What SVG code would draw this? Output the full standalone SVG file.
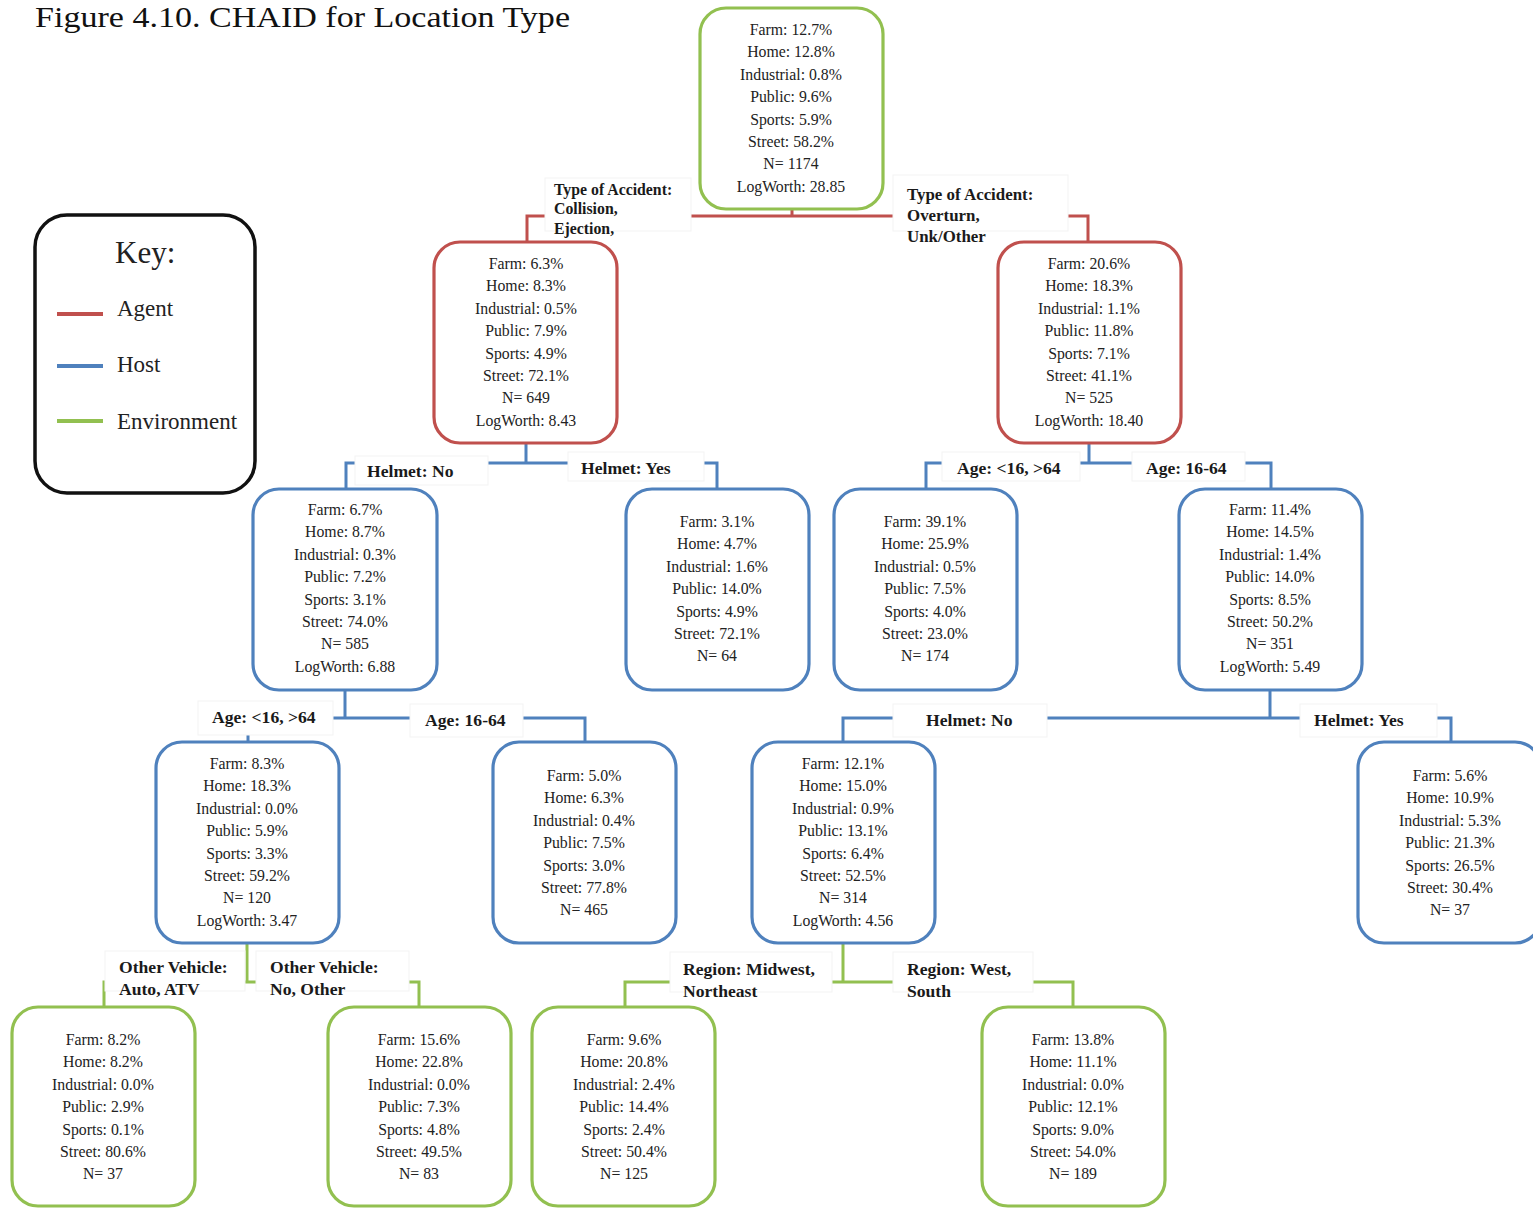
<svg xmlns="http://www.w3.org/2000/svg" width="1533" height="1208" viewBox="0 0 1533 1208">
<style>
.bg{fill:#fff}
.n{fill:#fff;stroke-width:3.2}
.ag{stroke:#C0504D}
.ho{stroke:#4F81BD}
.en{stroke:#92C050}
.t{font-family:"Liberation Serif","Times New Roman",serif;font-size:15.8px;fill:#222;text-anchor:middle}
.lb{font-family:"Liberation Serif","Times New Roman",serif;font-size:17.6px;font-weight:bold;fill:#1a1a1a}
.lb1{font-size:15.8px}
.lb2{font-size:16.9px}
.lbox{fill:#fff;stroke:#f3f3f3;stroke-width:1}
.c{fill:none;stroke-width:3}
.key{font-family:"Liberation Serif","Times New Roman",serif;font-size:23px;fill:#222}
.keyh{font-size:31px}
</style>
<rect class="bg" width="1533" height="1208"/>
<text x="35" y="27" font-family="Liberation Serif, Times New Roman, serif" font-size="30" fill="#111" textLength="535" lengthAdjust="spacingAndGlyphs">Figure 4.10. CHAID for Location Type</text>

<g id="key">
<rect x="35" y="215" width="220" height="278" rx="32" fill="#fff" stroke="#111" stroke-width="3.5"/>
<text class="key keyh" x="115" y="263">Key:</text>
<line x1="57" y1="314" x2="103" y2="314" stroke="#C0504D" stroke-width="4"/>
<text class="key" x="117" y="316">Agent</text>
<line x1="57" y1="366" x2="103" y2="366" stroke="#4F81BD" stroke-width="4"/>
<text class="key" x="117" y="372">Host</text>
<line x1="57" y1="421" x2="103" y2="421" stroke="#92C050" stroke-width="4"/>
<text class="key" x="117" y="429">Environment</text>
</g>

<g id="connectors">
<path class="c ag" d="M792 209V216M527 242V216H1088V242"/>
<path class="c ho" d="M526 443V463M346 489V463H717V489"/>
<path class="c ho" d="M1089 443V463M926 489V463H1271V489"/>
<path class="c ho" d="M345 690V718M248 742V718H585V742"/>
<path class="c ho" d="M1270 690V718M843 742V718H1451V742"/>
<path class="c en" d="M247 943V982M104 1007V982H419V1007"/>
<path class="c en" d="M843 943V982M625 1007V982H1073V1007"/>
</g>

<g id="labels">
<g id="lbl-collision"><rect class="lbox" x="545" y="178" width="146" height="53"/>
<text class="lb lb1" x="554" y="195">Type of Accident:</text><text class="lb lb1" x="554" y="214">Collision,</text><text class="lb lb1" x="554" y="234">Ejection,</text></g>
<g id="lbl-overturn"><rect class="lbox" x="893" y="175" width="175" height="56"/>
<text class="lb lb2" x="907" y="200">Type of Accident:</text><text class="lb lb2" x="907" y="221">Overturn,</text><text class="lb lb2" x="907" y="242">Unk/Other</text></g>
<g id="lbl-helmetno1"><rect class="lbox" x="355" y="456" width="133" height="29"/><text class="lb" x="367" y="477">Helmet: No</text></g>
<g id="lbl-helmetyes1"><rect class="lbox" x="568" y="452" width="136" height="29"/><text class="lb" x="581" y="474">Helmet: Yes</text></g>
<g id="lbl-age1"><rect class="lbox" x="942" y="452" width="138" height="29"/><text class="lb" x="957" y="474">Age: &lt;16, &gt;64</text></g>
<g id="lbl-age2"><rect class="lbox" x="1132" y="452" width="113" height="29"/><text class="lb" x="1146" y="474">Age: 16-64</text></g>
<g id="lbl-age3"><rect class="lbox" x="198" y="701" width="135" height="34"/><text class="lb" x="212" y="723">Age: &lt;16, &gt;64</text></g>
<g id="lbl-age4"><rect class="lbox" x="410" y="704" width="113" height="33"/><text class="lb" x="425" y="726">Age: 16-64</text></g>
<g id="lbl-helmetno2"><rect class="lbox" x="893" y="704" width="154" height="33"/><text class="lb" x="926" y="726">Helmet: No</text></g>
<g id="lbl-helmetyes2"><rect class="lbox" x="1300" y="704" width="137" height="33"/><text class="lb" x="1314" y="726">Helmet: Yes</text></g>
<g id="lbl-ov1"><rect class="lbox" x="105" y="951" width="140" height="40"/><text class="lb" x="119" y="973">Other Vehicle:</text><text class="lb" x="119" y="995">Auto, ATV</text></g>
<g id="lbl-ov2"><rect class="lbox" x="256" y="951" width="153" height="40"/><text class="lb" x="270" y="973">Other Vehicle:</text><text class="lb" x="270" y="995">No, Other</text></g>
<g id="lbl-reg1"><rect class="lbox" x="670" y="952" width="162" height="40"/><text class="lb" x="683" y="975">Region: Midwest,</text><text class="lb" x="683" y="997">Northeast</text></g>
<g id="lbl-reg2"><rect class="lbox" x="893" y="952" width="140" height="40"/><text class="lb" x="907" y="975">Region: West,</text><text class="lb" x="907" y="997">South</text></g>
</g>

<g id="root">
<rect class="n en" x="700" y="8" width="183" height="201" rx="26"/>
<text class="t" x="791" y="35">Farm: 12.7%</text><text class="t" x="791" y="57.4">Home: 12.8%</text><text class="t" x="791" y="79.8">Industrial: 0.8%</text><text class="t" x="791" y="102.2">Public: 9.6%</text><text class="t" x="791" y="124.6">Sports: 5.9%</text><text class="t" x="791" y="147">Street: 58.2%</text><text class="t" x="791" y="169.4">N= 1174</text><text class="t" x="791" y="191.8">LogWorth: 28.85</text>
</g>

<g id="collision">
<rect class="n ag" x="434" y="242" width="183" height="201" rx="26"/>
<text class="t" x="526" y="269">Farm: 6.3%</text><text class="t" x="526" y="291.4">Home: 8.3%</text><text class="t" x="526" y="313.8">Industrial: 0.5%</text><text class="t" x="526" y="336.2">Public: 7.9%</text><text class="t" x="526" y="358.6">Sports: 4.9%</text><text class="t" x="526" y="381">Street: 72.1%</text><text class="t" x="526" y="403.4">N= 649</text><text class="t" x="526" y="425.8">LogWorth: 8.43</text>
</g>

<g id="overturn">
<rect class="n ag" x="998" y="242" width="183" height="201" rx="26"/>
<text class="t" x="1089" y="269">Farm: 20.6%</text><text class="t" x="1089" y="291.4">Home: 18.3%</text><text class="t" x="1089" y="313.8">Industrial: 1.1%</text><text class="t" x="1089" y="336.2">Public: 11.8%</text><text class="t" x="1089" y="358.6">Sports: 7.1%</text><text class="t" x="1089" y="381">Street: 41.1%</text><text class="t" x="1089" y="403.4">N= 525</text><text class="t" x="1089" y="425.8">LogWorth: 18.40</text>
</g>

<g id="helmet-no">
<rect class="n ho" x="253" y="489" width="184" height="201" rx="26"/>
<text class="t" x="345" y="515">Farm: 6.7%</text><text class="t" x="345" y="537.4">Home: 8.7%</text><text class="t" x="345" y="559.8">Industrial: 0.3%</text><text class="t" x="345" y="582.2">Public: 7.2%</text><text class="t" x="345" y="604.6">Sports: 3.1%</text><text class="t" x="345" y="627">Street: 74.0%</text><text class="t" x="345" y="649.4">N= 585</text><text class="t" x="345" y="671.8">LogWorth: 6.88</text>
</g>

<g id="helmet-yes">
<rect class="n ho" x="626" y="489" width="183" height="201" rx="26"/>
<text class="t" x="717" y="527">Farm: 3.1%</text><text class="t" x="717" y="549.4">Home: 4.7%</text><text class="t" x="717" y="571.8">Industrial: 1.6%</text><text class="t" x="717" y="594.2">Public: 14.0%</text><text class="t" x="717" y="616.6">Sports: 4.9%</text><text class="t" x="717" y="639">Street: 72.1%</text><text class="t" x="717" y="661.4">N= 64</text>
</g>

<g id="age-young-old">
<rect class="n ho" x="834" y="489" width="183" height="201" rx="26"/>
<text class="t" x="925" y="527">Farm: 39.1%</text><text class="t" x="925" y="549.4">Home: 25.9%</text><text class="t" x="925" y="571.8">Industrial: 0.5%</text><text class="t" x="925" y="594.2">Public: 7.5%</text><text class="t" x="925" y="616.6">Sports: 4.0%</text><text class="t" x="925" y="639">Street: 23.0%</text><text class="t" x="925" y="661.4">N= 174</text>
</g>

<g id="age-mid">
<rect class="n ho" x="1179" y="489" width="183" height="201" rx="26"/>
<text class="t" x="1270" y="515">Farm: 11.4%</text><text class="t" x="1270" y="537.4">Home: 14.5%</text><text class="t" x="1270" y="559.8">Industrial: 1.4%</text><text class="t" x="1270" y="582.2">Public: 14.0%</text><text class="t" x="1270" y="604.6">Sports: 8.5%</text><text class="t" x="1270" y="627">Street: 50.2%</text><text class="t" x="1270" y="649.4">N= 351</text><text class="t" x="1270" y="671.8">LogWorth: 5.49</text>
</g>

<g id="hn-age-young-old">
<rect class="n ho" x="156" y="742" width="183" height="201" rx="26"/>
<text class="t" x="247" y="769">Farm: 8.3%</text><text class="t" x="247" y="791.4">Home: 18.3%</text><text class="t" x="247" y="813.8">Industrial: 0.0%</text><text class="t" x="247" y="836.2">Public: 5.9%</text><text class="t" x="247" y="858.6">Sports: 3.3%</text><text class="t" x="247" y="881">Street: 59.2%</text><text class="t" x="247" y="903.4">N= 120</text><text class="t" x="247" y="925.8">LogWorth: 3.47</text>
</g>

<g id="hn-age-mid">
<rect class="n ho" x="493" y="742" width="183" height="201" rx="26"/>
<text class="t" x="584" y="781">Farm: 5.0%</text><text class="t" x="584" y="803.4">Home: 6.3%</text><text class="t" x="584" y="825.8">Industrial: 0.4%</text><text class="t" x="584" y="848.2">Public: 7.5%</text><text class="t" x="584" y="870.6">Sports: 3.0%</text><text class="t" x="584" y="893">Street: 77.8%</text><text class="t" x="584" y="915.4">N= 465</text>
</g>

<g id="am-helmet-no">
<rect class="n ho" x="752" y="742" width="183" height="201" rx="26"/>
<text class="t" x="843" y="769">Farm: 12.1%</text><text class="t" x="843" y="791.4">Home: 15.0%</text><text class="t" x="843" y="813.8">Industrial: 0.9%</text><text class="t" x="843" y="836.2">Public: 13.1%</text><text class="t" x="843" y="858.6">Sports: 6.4%</text><text class="t" x="843" y="881">Street: 52.5%</text><text class="t" x="843" y="903.4">N= 314</text><text class="t" x="843" y="925.8">LogWorth: 4.56</text>
</g>

<g id="am-helmet-yes">
<rect class="n ho" x="1358" y="742" width="183" height="201" rx="26"/>
<text class="t" x="1450" y="781">Farm: 5.6%</text><text class="t" x="1450" y="803.4">Home: 10.9%</text><text class="t" x="1450" y="825.8">Industrial: 5.3%</text><text class="t" x="1450" y="848.2">Public: 21.3%</text><text class="t" x="1450" y="870.6">Sports: 26.5%</text><text class="t" x="1450" y="893">Street: 30.4%</text><text class="t" x="1450" y="915.4">N= 37</text>
</g>

<g id="ov-auto-atv">
<rect class="n en" x="12" y="1007" width="183" height="199" rx="26"/>
<text class="t" x="103" y="1045">Farm: 8.2%</text><text class="t" x="103" y="1067.4">Home: 8.2%</text><text class="t" x="103" y="1089.8">Industrial: 0.0%</text><text class="t" x="103" y="1112.2">Public: 2.9%</text><text class="t" x="103" y="1134.6">Sports: 0.1%</text><text class="t" x="103" y="1157">Street: 80.6%</text><text class="t" x="103" y="1179.4">N= 37</text>
</g>

<g id="ov-no-other">
<rect class="n en" x="328" y="1007" width="183" height="199" rx="26"/>
<text class="t" x="419" y="1045">Farm: 15.6%</text><text class="t" x="419" y="1067.4">Home: 22.8%</text><text class="t" x="419" y="1089.8">Industrial: 0.0%</text><text class="t" x="419" y="1112.2">Public: 7.3%</text><text class="t" x="419" y="1134.6">Sports: 4.8%</text><text class="t" x="419" y="1157">Street: 49.5%</text><text class="t" x="419" y="1179.4">N= 83</text>
</g>

<g id="region-mw-ne">
<rect class="n en" x="532" y="1007" width="183" height="199" rx="26"/>
<text class="t" x="624" y="1045">Farm: 9.6%</text><text class="t" x="624" y="1067.4">Home: 20.8%</text><text class="t" x="624" y="1089.8">Industrial: 2.4%</text><text class="t" x="624" y="1112.2">Public: 14.4%</text><text class="t" x="624" y="1134.6">Sports: 2.4%</text><text class="t" x="624" y="1157">Street: 50.4%</text><text class="t" x="624" y="1179.4">N= 125</text>
</g>

<g id="region-w-s">
<rect class="n en" x="982" y="1007" width="183" height="199" rx="26"/>
<text class="t" x="1073" y="1045">Farm: 13.8%</text><text class="t" x="1073" y="1067.4">Home: 11.1%</text><text class="t" x="1073" y="1089.8">Industrial: 0.0%</text><text class="t" x="1073" y="1112.2">Public: 12.1%</text><text class="t" x="1073" y="1134.6">Sports: 9.0%</text><text class="t" x="1073" y="1157">Street: 54.0%</text><text class="t" x="1073" y="1179.4">N= 189</text>
</g>
</svg>
